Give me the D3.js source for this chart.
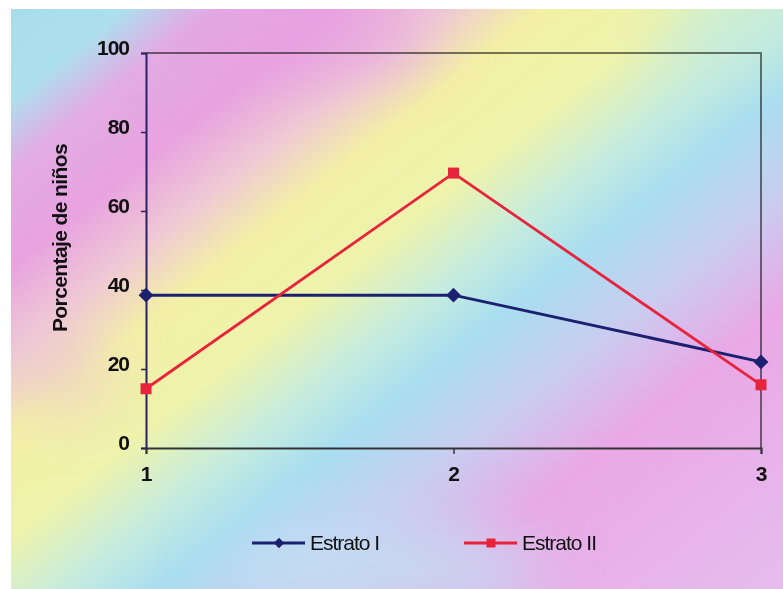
<!DOCTYPE html>
<html>
<head>
<meta charset="utf-8">
<script src="https://cdn.jsdelivr.net/npm/d3@7"></script>
<style>
  body { margin: 0; background: #fff; }
  svg text { font-family: "Liberation Sans", Arial, sans-serif; fill: #111; }
</style>
</head>
<body>
<div id="chart"></div>
<script>
var categories = [1, 2, 3];
var estratoI = [38.7, 38.7, 21.8];
var estratoII = [15.0, 69.6, 16.0];
var yTicks = [0, 20, 40, 60, 80, 100];
var seriesNames = ["Estrato I", "Estrato II"];

var width = 783,
    height = 589;

var margin = { top: 53, left: 146, right: 22, bottom: 141 };

var blue = "#1c2070";
var red = "#e8243c";

var svg = d3.select("#chart")
    .append("svg")
    .attr("width", width)
    .attr("height", height);

// scanned rainbow paper background
var defs = svg.append("defs");
var grad = defs.append("linearGradient")
    .attr("id", "paper")
    .attr("gradientUnits", "userSpaceOnUse")
    .attr("x1", 0).attr("y1", 0)
    .attr("x2", 586).attr("y2", 737);

var stops = [
    [0, "#a8dcea"], [85, "#ade0ee"], [140, "#e2ace4"], [215, "#e8a2e0"],
    [285, "#efcad4"], [345, "#f3f0a6"], [430, "#eef3ac"], [500, "#c6ecde"],
    [560, "#a9def0"], [640, "#c9cdf0"], [730, "#eaa8e6"], [945, "#e6bcee"]
];
stops.forEach(function (s) {
    grad.append("stop").attr("offset", s[0] / 945).attr("stop-color", s[1]);
});

var blur = defs.append("filter").attr("id", "soft")
    .attr("x", "-50%").attr("y", "-50%").attr("width", "200%").attr("height", "200%");
blur.append("feGaussianBlur").attr("stdDeviation", 30);

var bg = svg.append("g");
bg.append("rect")
    .attr("x", 11).attr("y", 9)
    .attr("width", width - 11).attr("height", height - 9)
    .attr("fill", "url(#paper)");

var clip = defs.append("clipPath").attr("id", "paperclip");
clip.append("rect").attr("x", 11).attr("y", 9).attr("width", width - 11).attr("height", height - 9);

var blobs = bg.append("g").attr("clip-path", "url(#paperclip)")
    .append("g").attr("filter", "url(#soft)");
blobs.append("ellipse").attr("cx", 380).attr("cy", 570).attr("rx", 160).attr("ry", 50)
    .attr("fill", "#bfe0f2").attr("opacity", 0.8);
blobs.append("ellipse").attr("cx", 300).attr("cy", 40).attr("rx", 130).attr("ry", 35)
    .attr("fill", "#e79fe2").attr("opacity", 0.7);
blobs.append("ellipse").attr("cx", 730).attr("cy", 30).attr("rx", 70).attr("ry", 40)
    .attr("fill", "#c4ecdc").attr("opacity", 0.7);
blobs.append("ellipse").attr("cx", 60).attr("cy", 370).attr("rx", 50).attr("ry", 40)
    .attr("fill", "#ecc0dc").attr("opacity", 0.6);

var x = d3.scaleLinear()
    .domain([1, 3])
    .range([margin.left, width - margin.right]);

var y = d3.scaleLinear()
    .domain([0, 100])
    .range([height - margin.bottom, margin.top]);

// frame (top and right) picks up the paper tint
svg.append("path")
    .attr("d", "M" + x(1) + "," + y(100) + "H" + x(3) + "V" + y(0))
    .attr("fill", "none")
    .attr("stroke", "#7a7a7a")
    .attr("stroke-width", 2)
    .style("mix-blend-mode", "multiply");

var yAxis = d3.axisLeft(y)
    .tickValues(yTicks)
    .tickSize(5)
    .tickPadding(12);

var gy = svg.append("g")
    .attr("transform", "translate(" + x(1) + ",0)")
    .call(yAxis);
gy.select(".domain").attr("stroke", "#2a2160").attr("stroke-width", 2);
gy.selectAll(".tick line").attr("stroke", "#2a2160").attr("stroke-width", 1.5);
gy.selectAll(".tick text")
    .attr("y", -5)
    .style("font-size", "21px")
    .style("font-weight", "bold")
    .style("letter-spacing", "-1px");

var xAxis = d3.axisBottom(x)
    .tickValues(categories)
    .tickFormat(d3.format("d"))
    .tickSize(6)
    .tickPadding(12);

var gx = svg.append("g")
    .attr("transform", "translate(0," + y(0) + ")")
    .call(xAxis);
gx.select(".domain").attr("stroke", "#333").attr("stroke-width", 2);
gx.selectAll(".tick line").attr("stroke", "#333").attr("stroke-width", 1.5);
gx.selectAll(".tick text")
    .style("font-size", "21px")
    .style("font-weight", "bold");
gx.selectAll("text").attr("fill", "#111");
gy.selectAll("text").attr("fill", "#111");

svg.append("text")
    .attr("transform", "translate(67,238) rotate(-90)")
    .attr("text-anchor", "middle")
    .style("font-size", "21px")
    .style("font-weight", "bold")
    .style("letter-spacing", "-0.6px")
    .text("Porcentaje de niños");

var line = d3.line()
    .x(function (d, i) { return x(categories[i]); })
    .y(function (d) { return y(d); });

svg.append("path")
    .datum(estratoI)
    .attr("d", line)
    .attr("fill", "none")
    .attr("stroke", blue)
    .attr("stroke-width", 3);

svg.append("path")
    .datum(estratoII)
    .attr("d", line)
    .attr("fill", "none")
    .attr("stroke", red)
    .attr("stroke-width", 2.8);

var diamond = d3.symbol().type(d3.symbolSquare).size(110);
var square = d3.symbol().type(d3.symbolSquare).size(121);

svg.selectAll(".m1")
    .data(estratoI)
    .enter()
    .append("path")
    .attr("class", "m1")
    .attr("d", diamond)
    .attr("fill", blue)
    .attr("transform", function (d, i) {
        return "translate(" + x(categories[i]) + "," + y(d) + ") rotate(45)";
    });

svg.selectAll(".m2")
    .data(estratoII)
    .enter()
    .append("path")
    .attr("class", "m2")
    .attr("d", square)
    .attr("fill", red)
    .attr("transform", function (d, i) {
        return "translate(" + x(categories[i]) + "," + y(d) + ")";
    });

// legend
var legendY = 543;
var legendItems = [
    { name: seriesNames[0], color: blue, x0: 252, sym: d3.symbol().type(d3.symbolSquare).size(56), rot: 45 },
    { name: seriesNames[1], color: red, x0: 464, sym: d3.symbol().type(d3.symbolSquare).size(81), rot: 0 }
];

var lg = svg.selectAll(".legend")
    .data(legendItems)
    .enter()
    .append("g")
    .attr("class", "legend")
    .attr("transform", function (d) { return "translate(" + d.x0 + "," + legendY + ")"; });

lg.append("line")
    .attr("x1", 0).attr("x2", 53)
    .attr("stroke", function (d) { return d.color; })
    .attr("stroke-width", 3);

lg.append("path")
    .attr("d", function (d) { return d.sym(); })
    .attr("fill", function (d) { return d.color; })
    .attr("transform", function (d) { return "translate(27,0) rotate(" + d.rot + ")"; });

lg.append("text")
    .attr("x", 58)
    .attr("dy", "0.35em")
    .style("font-size", "21px")
    .style("letter-spacing", "-1px")
    .text(function (d) { return d.name; });
</script>
</body>
</html>
